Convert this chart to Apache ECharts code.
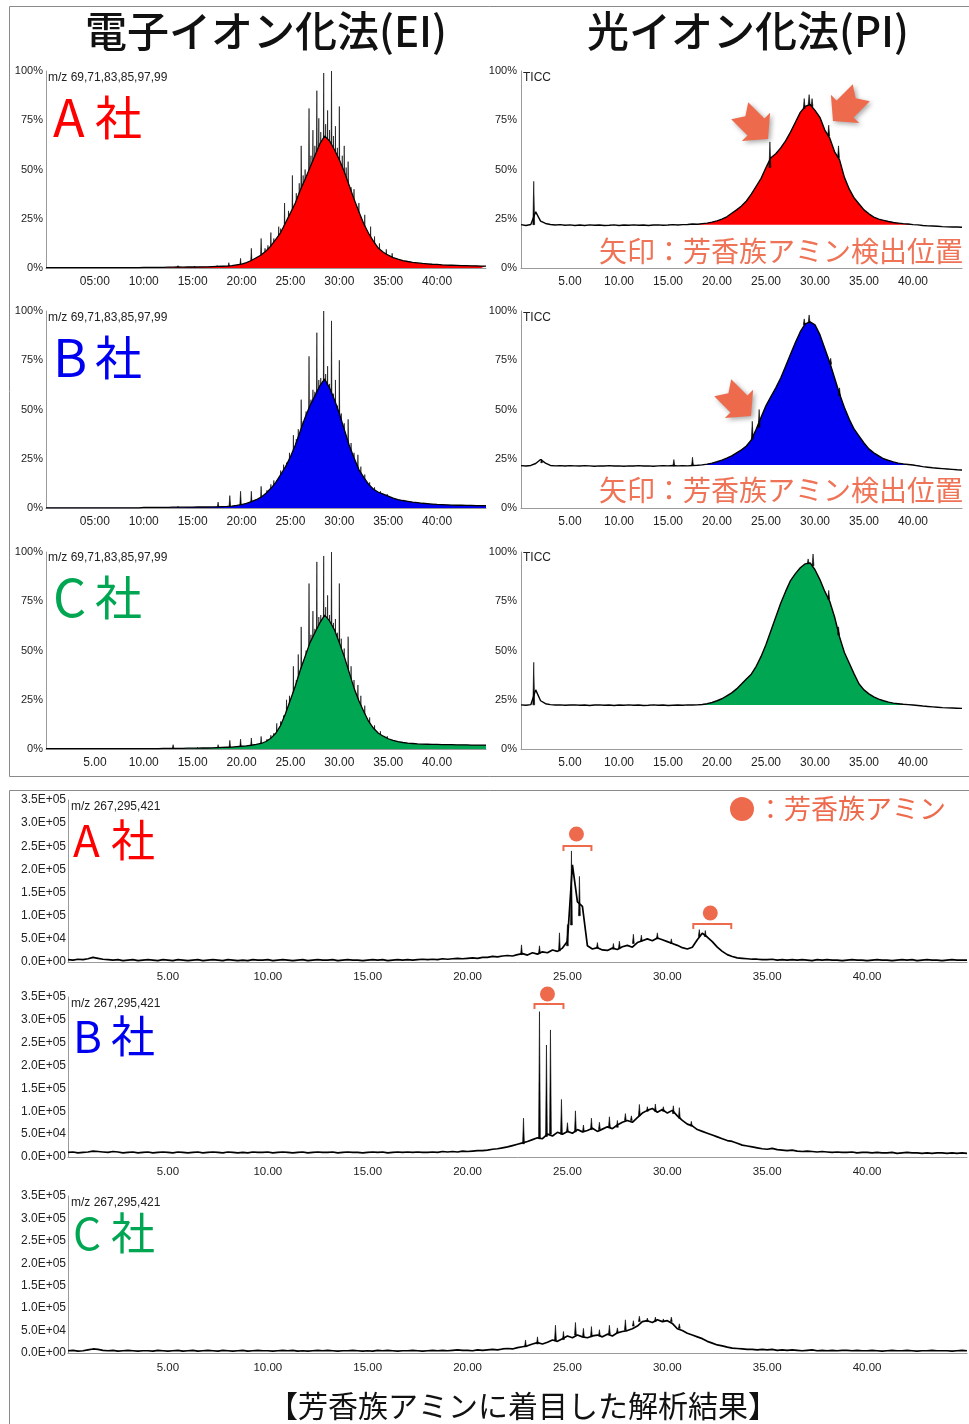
<!DOCTYPE html>
<html><head><meta charset="utf-8">
<script src="https://cdn.jsdelivr.net/npm/echarts@6/dist/echarts.min.js"></script>
<style>html,body{margin:0;padding:0;background:#fff}#c{width:969px;height:1424px}</style>
</head><body><div id="c"></div>
<script>
// ---------------- DATA ----------------
// sampling times (min)
const times05 = Array.from({length: 91}, (_, i) => i * 0.5);
const times025 = Array.from({length: 181}, (_, i) => i * 0.25);
const xTicks = [5, 10, 15, 20, 25, 30, 35, 40];

// EI (m/z 69,71,83,85,97,99) envelopes, % (0.5 min steps)
const eiA = [0.2,0.2,0.2,0.2,0.2,0.2,0.2,0.2,0.2,0.2,
  0.2,0.2,0.2,0.2,0.2,0.2,0.2,0.2,0.2,0.2,
  0.3,0.3,0.3,0.3,0.3,0.4,0.4,0.5,0.4,0.5,
  0.5,0.5,0.6,0.6,0.7,0.8,0.9,1.0,1.2,1.6,
  2.0,2.7,3.8,5.2,6.6,8.6,11.2,14.5,18,23,
  28,33,39.5,45,51,57,63,67,64.5,60,
  55,49,42,35,28.5,22.5,17.5,13.5,10,8,
  6.5,5.3,4.5,3.8,3.3,2.9,2.6,2.3,2.1,1.9,
  1.8,1.6,1.5,1.4,1.3,1.2,1.2,1.1,1.1,1.0,
  1.0];
const eiB = [0.1,0.1,0.1,0.1,0.1,0.1,0.1,0.1,0.1,0.1,
  0.1,0.1,0.1,0.1,0.1,0.1,0.1,0.1,0.1,0.1,
  0.3,0.3,0.3,0.3,0.35,0.35,0.4,0.4,0.4,0.45,
  0.45,0.5,0.5,0.5,0.55,0.6,0.7,0.8,1.0,1.3,
  1.7,2.3,3.2,4.2,5.5,7.5,10,13,17,21,
  26,32,39,46,52,57,62,65.5,61,55,
  48,40,32,25.5,19.5,15.5,12,9.5,8,7,
  6,5,4.3,3.8,3.4,3.0,2.7,2.4,2.2,2.0,
  1.8,1.7,1.6,1.5,1.4,1.4,1.3,1.3,1.2,1.2,
  1.2];
const eiC = [0.2,0.2,0.2,0.2,0.2,0.2,0.2,0.2,0.2,0.2,
  0.2,0.2,0.2,0.2,0.2,0.2,0.2,0.2,0.2,0.2,
  0.2,0.2,0.2,0.2,0.3,0.3,0.3,0.35,0.35,0.4,
  0.4,0.45,0.5,0.5,0.6,0.7,0.8,0.9,1.0,1.2,
  1.4,1.6,1.9,2.3,2.8,3.8,5.5,8,12,18,
  25,32,40,47,54,59,64,68,65,60.5,
  54,47,39,31,24.5,19,14,10.5,8,6.5,
  5.2,4.4,3.8,3.3,3.0,2.8,2.6,2.5,2.4,2.3,
  2.3,2.2,2.2,2.2,2.1,2.1,2.1,2.0,2.0,2.0,
  2.0];
// EI spikes [time, top %]
const eiSpikesA = [[13.5,1.2],[15.2,1.0],[17.5,1.3],[18.7,2.7],[19.9,4.9],[21.0,10],[22.0,15],[22.4,10],[22.7,11.5],[23.0,18],[23.3,15],[23.8,21],[24.0,20],[24.4,33],[24.8,29],[25.2,47],[25.6,38],[25.9,43],[26.1,62],[26.3,47],[26.5,50],[26.9,81],[27.1,57],[27.3,70],[27.5,62],[27.7,90],[27.9,76],[28.1,69],[28.4,99],[28.6,73],[28.8,80],[29.0,70],[29.2,100],[29.4,67],[29.6,72],[29.8,61],[30.0,82],[30.3,57],[30.5,62],[30.7,51],[30.9,54],[31.2,41],[31.5,40],[31.8,30],[32.0,33],[32.2,24],[32.6,27],[33.2,21],[33.6,16],[34.1,12.5],[34.8,9.5],[35.4,7.5]];
const eiSpikesB = [[13.5,0.8],[17.6,3],[18.8,6.3],[19.9,8.5],[21.0,8.5],[22.0,11],[22.6,9],[23.0,12],[23.3,14],[23.6,14],[24.0,19],[24.3,22],[24.6,23],[24.9,28],[25.3,37],[25.6,35],[25.8,40],[26.1,55],[26.3,44],[26.6,49],[26.9,77],[27.1,55],[27.3,60],[27.5,59],[27.7,89],[27.9,65],[28.1,66],[28.4,100],[28.6,68],[28.8,72],[29.0,63],[29.2,95],[29.4,58],[29.6,65],[29.8,52],[30.0,75],[30.2,48],[30.5,43],[30.9,45],[31.2,33],[31.5,28],[31.9,27],[32.2,21],[32.6,17],[33.1,13],[33.6,10.5],[34.2,8.5],[34.9,7]];
const eiSpikesC = [[13.0,2.2],[15.5,0.8],[17.6,2.2],[18.8,4.4],[19.9,5],[21.0,5.6],[22.0,6.4],[22.6,5],[23.0,7],[23.3,8],[23.6,13],[24.0,14],[24.3,17],[24.6,25],[24.9,27],[25.3,42],[25.6,35],[25.8,48],[26.1,62],[26.3,44],[26.6,50],[26.9,84],[27.1,58],[27.3,70],[27.5,61],[27.7,95],[27.9,67],[28.1,68],[28.4,98],[28.6,72],[28.8,78],[29.0,68],[29.2,100],[29.4,64],[29.6,66],[29.8,59],[30.0,84],[30.2,56],[30.5,51],[30.9,57],[31.2,42],[31.5,35],[31.9,32.5],[32.2,27],[32.6,22],[33.1,16],[33.6,12],[34.2,9],[34.9,6.5]];

// PI (TICC) traces, % (0.5 min steps)
const piA = [22.0,21.6,22.1,28.5,23.8,22.6,22.1,21.8,22.0,21.7,
  21.9,21.6,21.8,21.6,21.9,21.7,21.8,21.6,21.7,21.9,
  21.6,21.8,21.7,21.9,21.7,21.8,21.6,21.8,21.9,21.7,
  21.8,22.0,21.8,22.0,22.1,22.3,22.2,22.5,22.8,23.3,
  23.9,24.8,26.0,27.8,29.5,31.5,34.0,37.5,41.5,45.5,
  51,56,58,61,64.5,69,74,79,82,83,
  80,76.5,70,66,59,55,46,40,35.5,32.5,
  29.5,27.5,25.8,24.8,24.2,23.6,23.1,22.8,22.5,22.3,
  22.0,21.9,21.6,21.4,21.3,21.2,21.0,20.9,20.8,20.8,
  20.7];
const piB = [21.5,21.3,21.6,22.6,24.6,22.8,21.6,21.4,21.5,21.3,
  21.5,21.4,21.3,21.5,21.4,21.2,21.4,21.3,21.5,21.3,
  21.4,21.2,21.4,21.3,21.5,21.3,21.4,21.2,21.4,21.5,
  21.4,21.6,21.4,21.5,21.4,21.6,21.7,21.9,22.3,22.8,
  23.5,24.3,25.3,26.5,28.0,29.5,31.5,34.5,40,46,
  52,56.5,61,66,72,78,84,89.5,93.5,94.5,
  93,88,81,74,66,58,51,45,40,36.5,
  33,30,28,26.5,25,24.2,23.4,22.8,22.4,22.1,
  21.8,21.4,21.0,20.7,20.4,20.2,20.0,19.8,19.6,19.4,
  19.3];
const piC = [22.4,22.2,22.5,30,24.5,23.0,22.5,22.3,22.4,22.2,
  22.3,22.4,22.2,22.3,22.1,22.3,22.4,22.2,22.3,22.1,
  22.3,22.2,22.4,22.2,22.3,22.1,22.2,22.4,22.2,22.3,
  22.1,22.2,22.3,22.2,22.4,22.3,22.4,22.6,23.0,23.6,
  24.5,25.5,27,28.5,30.5,33,35.5,38,42,47,
  53,60,67,74,80,85.5,89,92,94,94.5,
  91,86,80,75,67,57,49,43.5,38,33,
  30,28,26.5,25.3,24.5,23.8,23.3,23.0,22.7,22.5,
  22.3,22.1,21.8,21.6,21.4,21.2,21.0,20.9,20.8,20.7,
  20.6];
// PI spikes [time, from %, to %]
const piSpikesA = [[1.3,22,44],[25.4,51,64],[28.9,81,86],[29.4,83,88],[29.7,82,86],[31.4,67,72.5],[32.4,56,62]];
const piSpikesB = [[2.1,23,24.8],[15.6,21.4,24.6],[17.5,21.6,25.8],[23.6,35,44],[24.3,41,50],[28.9,93,96],[29.4,94,98],[31.6,73,76],[32.5,57,61]];
const piSpikesC = [[1.3,22.4,44],[29.3,94,96.5],[29.8,93,99],[31.4,76,80.5],[32.4,58,62]];
const piFillBase = [22.0, 21.8, 22.3];

// m/z 267,295,421 traces, x1e4 counts (0.25 min steps)
const amA = [0.5,0.4,0.6,0.5, 0.7,1.0,0.8,0.6, 0.5,0.4,0.5,0.3, 0.4,0.5,0.3,0.4, 0.5,0.4,0.3,0.5,
  0.4,0.3,0.5,0.4, 0.3,0.4,0.5,0.3, 0.4,0.5,0.4,0.3, 0.5,0.4,0.3,0.4, 0.3,0.5,0.4,0.4,
  0.5,0.3,0.4,0.5, 0.4,0.3,0.4,0.5, 0.3,0.4,0.5,0.4, 0.4,0.5,0.3,0.4, 0.5,0.4,0.4,0.3,
  0.4,0.5,0.4,0.5, 0.3,0.4,0.5,0.4, 0.5,0.4,0.5,0.6, 0.5,0.6,0.5,0.7, 0.6,0.7,0.8,0.7,
  0.8,0.9,0.8,1.0, 1.0,1.2,1.1,1.3, 1.4,1.3,1.6,1.8, 1.5,2.0,1.7,2.2, 2.0,2.6,2.3,3.0,
  4.5,21,13,12, 3.5,2.8,3.1,2.6, 2.5,3.0,2.7,3.3, 3.6,3.2,4.2,4.6, 5.0,4.6,5.2,4.8,
  4.4,4.0,3.6,3.1, 2.8,3.2,4.8,6.2, 5.4,4.4,3.2,2.3, 1.6,1.2,0.9,0.8, 0.7,0.6,0.6,0.5,
  0.5,0.6,0.4,0.5, 0.4,0.5,0.4,0.5, 0.4,0.3,0.5,0.4, 0.5,0.4,0.4,0.3, 0.4,0.5,0.4,0.4,
  0.3,0.4,0.5,0.4, 0.4,0.3,0.4,0.5, 0.4,0.5,0.3,0.4, 0.5,0.4,0.4,0.3, 0.4,0.5,0.4,0.4,
  0.4];
const amB = [1.0,1.1,0.9,1.0, 1.1,1.3,1.2,1.1, 1.0,1.2,1.1,0.9, 1.0,1.1,0.9,1.0, 1.1,0.9,1.0,1.1,
  1.0,0.9,1.1,1.0, 0.9,1.0,1.1,0.9, 1.0,1.1,1.0,0.9, 1.1,1.0,0.9,1.0, 0.9,1.1,1.0,1.0,
  1.1,0.9,1.0,1.1, 1.0,0.9,1.0,1.1, 0.9,1.0,1.1,1.0, 1.0,1.1,0.9,1.0, 1.1,1.0,1.0,0.9,
  1.0,1.1,1.0,1.1, 0.9,1.0,1.1,1.0, 1.1,1.0,1.1,1.0, 1.0,1.1,1.0,1.2, 1.1,1.2,1.1,1.3,
  1.2,1.3,1.4,1.4, 1.5,1.7,1.8,2.0, 2.2,2.5,2.8,3.1, 3.4,3.8,4.2,4.0, 5.0,4.6,5.4,5.0,
  5.6,5.2,6.0,5.5, 5.8,6.3,5.6,6.1, 6.6,6.2,7.0,7.6, 8.0,7.6,8.6,9.6, 10.2,10.6,9.8,10.4,
  9.6,10.2,9.0,8.0, 7.2,6.8,6.0,5.6, 5.2,4.8,4.4,4.0, 3.6,3.4,3.0,2.6, 2.4,2.2,2.0,1.8,
  1.7,1.9,1.6,1.5, 1.4,1.5,1.3,1.2, 1.3,1.2,1.1,1.2, 1.1,1.0,1.1,1.0, 1.0,1.1,0.9,1.0,
  1.0,0.9,1.0,0.9, 0.9,1.0,0.8,0.9, 1.0,0.9,0.9,0.8, 0.9,0.8,0.9,0.9, 0.8,0.9,0.8,0.9,
  0.8];
const amC = [0.5,0.6,0.4,0.5, 0.7,0.9,0.8,0.6, 0.5,0.6,0.4,0.5, 0.6,0.5,0.4,0.5, 0.5,0.4,0.6,0.5,
  0.4,0.5,0.6,0.4, 0.5,0.6,0.4,0.5, 0.6,0.5,0.4,0.6, 0.5,0.4,0.5,0.6, 0.4,0.5,0.6,0.5,
  0.5,0.4,0.5,0.6, 0.5,0.6,0.4,0.5, 0.4,0.5,0.6,0.5, 0.6,0.5,0.4,0.5, 0.5,0.6,0.5,0.4,
  0.5,0.4,0.6,0.5, 0.6,0.5,0.4,0.5, 0.5,0.6,0.5,0.4, 0.5,0.6,0.5,0.6, 0.5,0.6,0.7,0.6,
  0.6,0.5,0.7,0.6, 0.7,0.8,0.7,0.9, 1.0,0.9,1.2,1.4, 1.6,2.0,2.3,2.0, 2.4,2.9,2.6,3.2,
  3.8,3.4,4.0,3.6, 3.4,3.8,4.0,3.6, 4.2,3.8,4.5,4.8, 5.0,5.4,6.0,7.0, 7.2,6.8,7.4,7.0,
  7.2,6.6,5.4,5.0, 4.4,4.0,3.6,3.2, 2.6,2.2,1.8,1.6, 1.3,1.1,1.0,0.9, 0.8,0.8,0.7,0.8,
  0.7,0.8,0.6,0.7, 0.6,0.7,0.6,0.5, 0.6,0.7,0.5,0.6, 0.5,0.6,0.5,0.6, 0.6,0.5,0.6,0.5,
  0.5,0.6,0.5,0.4, 0.5,0.6,0.5,0.5, 0.6,0.5,0.4,0.5, 0.5,0.6,0.5,0.5, 0.5,0.4,0.5,0.6,
  0.5];
// spikes [time, from, to] x1e4
const amSpikesA = [[22.7,1.6,3.7],[23.6,1.9,3.5],[24.6,2.4,6.3],[25.0,3.5,8.1],[25.2,8,24],[25.6,10,18.5],[26.5,3,4.2],[27.3,2.8,4.0],[27.6,3,4.5],[28.3,4,6.0],[28.7,4.5,5.8],[29.5,5,6.3],[30.2,4,5.0],[31.6,5.5,7.0],[31.9,5.5,6.8]];
const amSpikesB = [[22.8,2.9,8.5],[23.6,4,31.8],[23.95,4.5,24.5],[24.15,5,27.8],[24.7,5,12.6],[25.0,5.5,7.5],[25.4,5.5,10.1],[25.8,5.5,7.0],[26.2,6,8.5],[26.6,6,7.6],[27.1,6.5,8.8],[27.5,6.5,8.0],[27.9,8,9.5],[28.2,8,9.0],[28.6,9,11.5],[29.0,10,11.0],[29.4,10,11.6],[29.8,10,11.0],[30.3,9.5,11.2],[30.6,8.5,10.8],[31.2,6.8,7.8]];
const amSpikesC = [[22.9,1.4,2.9],[23.5,2.0,3.6],[24.4,2.9,6.2],[24.8,3,4.8],[25.4,4.0,6.8],[25.8,3.6,5.5],[26.2,3.6,5.9],[26.6,3.8,5.2],[27.1,4.2,6.2],[27.5,4.5,5.6],[27.9,5.1,7.4],[28.3,6,7.2],[28.6,7.0,8.2],[29.0,7,7.8],[29.4,7.0,8.0],[29.8,7,7.6],[30.2,7.0,8.0],[30.6,5.5,6.5]];
// aromatic amine marks: [dot time, bracket start, bracket end]
const amineMarksA = [[25.45, 24.8, 26.2], [32.15, 31.3, 33.2]];
const amineMarksB = [[24.0, 23.35, 24.8]];

// ---------------- STYLE / LAYOUT ----------------
const JP = '"Noto Sans CJK JP","Noto Sans CJK SC",sans-serif';
const TK = '"Liberation Sans",Arial,sans-serif';
const RED = '#ff0000', BLUE = '#0000f0', GREEN = '#00a651';
const ORANGE = '#ee6a4c';
const grids = [
  {left: 46, top: 71, width: 440, height: 197},
  {left: 46, top: 311, width: 440, height: 197},
  {left: 46, top: 552, width: 440, height: 197},
  {left: 521, top: 71, width: 441, height: 197},
  {left: 521, top: 311, width: 441, height: 197},
  {left: 521, top: 552, width: 441, height: 197},
  {left: 68, top: 800, width: 899, height: 162},
  {left: 68, top: 997, width: 899, height: 160},
  {left: 68, top: 1196, width: 899, height: 157}
];
const xFmt = ['mm', 'mm', 'd', 'd', 'd', 'd', 'd', 'd', 'd'];

const xAxes = grids.map((g, i) => ({
  type: 'value', gridIndex: i, min: 0, max: 45, interval: 5,
  axisLine: {show: true, onZero: false, lineStyle: {color: '#9a9a9a', width: 1}},
  axisTick: {show: false}, splitLine: {show: false},
  axisLabel: {
    showMinLabel: false, showMaxLabel: false,
    fontFamily: TK, fontSize: i >= 6 ? 11.5 : 12, color: '#222', margin: i >= 6 ? 9 : 8,
    formatter: v => (xTicks.indexOf(v) < 0) ? '' :
      (xFmt[i] === 'mm' ? (v < 10 ? '0' + v : '' + v) + ':00' : v.toFixed(2))
  }
}));
const yAxes = grids.map((g, i) => {
  const bottom = i >= 6;
  return {
    type: 'value', gridIndex: i, min: 0, max: bottom ? 35 : 100, interval: bottom ? 5 : 25,
    axisLine: {show: true, lineStyle: {color: '#9a9a9a', width: 1}},
    axisTick: {show: false}, splitLine: {show: false},
    axisLabel: {
      fontFamily: TK, fontSize: bottom ? 12 : 11, color: '#222', margin: bottom ? 2 : (i >= 3 ? 4 : 3),
      formatter: v => bottom ? (v === 0 ? '0.0E+00' : (v < 10 ? v.toFixed(1) + 'E+04' : (v / 10).toFixed(1) + 'E+05')) : v + '%'
    }
  };
});

function pairs(ts, vs) { return vs.map((v, k) => [ts[k], v]); }
function spikeSeries(gi, data, z) {
  return {
    type: 'custom', xAxisIndex: gi, yAxisIndex: gi, z: z, silent: true, clip: true,
    encode: {x: 0, y: [1, 2]}, data: data,
    renderItem: (params, api) => {
      const p1 = api.coord([api.value(0), api.value(1)]);
      const p2 = api.coord([api.value(0), api.value(2)]);
      return {type: 'polygon', shape: {points: [[p1[0] - 0.9, p1[1]], [p2[0], p2[1]], [p1[0] + 0.9, p1[1]]]},
        style: {fill: '#000', stroke: '#000', lineWidth: 0.6}};
    }
  };
}
function traceSeries(gi, data, z, width, area) {
  const s = {type: 'line', xAxisIndex: gi, yAxisIndex: gi, data: data, showSymbol: false, symbol: 'none',
    z: z, silent: true, lineStyle: {color: '#000', width: width}};
  if (area) s.areaStyle = area;
  return s;
}

const series = [];
// EI
[[eiA, eiSpikesA, RED], [eiB, eiSpikesB, BLUE], [eiC, eiSpikesC, GREEN]].forEach((d, k) => {
  series.push(spikeSeries(k, d[1].map(s => [s[0], 0, s[1]]), 1));
  series.push(traceSeries(k, pairs(times05, d[0]), 2, 1.3, {color: d[2], opacity: 1}));
});
// PI
[[piA, piSpikesA, RED], [piB, piSpikesB, BLUE], [piC, piSpikesC, GREEN]].forEach((d, k) => {
  const gi = 3 + k;
  const fill = pairs(times05, d[0]).slice(36, 83);
  series.push({type: 'line', xAxisIndex: gi, yAxisIndex: gi, data: fill, showSymbol: false, symbol: 'none', z: 1, silent: true,
    lineStyle: {width: 0, color: d[2]}, areaStyle: {color: d[2], opacity: 1, origin: piFillBase[k]}});
  series.push(traceSeries(gi, pairs(times05, d[0]), 2, 1.4));
  series.push(spikeSeries(gi, d[1], 3));
});
// amine traces
[[amA, amSpikesA], [amB, amSpikesB], [amC, amSpikesC]].forEach((d, k) => {
  const gi = 6 + k;
  series.push(traceSeries(gi, pairs(times025, d[0]), 2, 1.7));
  series.push(spikeSeries(gi, d[1], 3));
});

function txt(x, y, text, font, fill, align) {
  return {type: 'text', x: x, y: y, silent: true, z: 100,
    style: {text: text, font: font, fill: fill, align: align || 'left', verticalAlign: 'middle',
      textAlign: align || 'left', textVerticalAlign: 'middle'}};
}
function arrow(tipX, tipY, angleDeg) {
  const H = 17, HW = 20, W = 12, L = 40, N = 8;
  const local = [[0, 0], [-H, -HW], [-H, -W], [-L, -W], [-L + N, 0], [-L, W], [-H, W], [-H, HW]];
  const a = angleDeg * Math.PI / 180, c = Math.cos(a), s = Math.sin(a);
  return {type: 'polygon', silent: true, z: 100,
    shape: {points: local.map(p => [tipX + p[0] * c - p[1] * s, tipY + p[0] * s + p[1] * c])},
    style: {fill: ORANGE, shadowBlur: 5, shadowColor: 'rgba(0,0,0,0.35)', shadowOffsetX: 2, shadowOffsetY: 2}};
}

const graphic = [
  {type: 'rect', silent: true, shape: {x: 9.5, y: 6.5, width: 990, height: 770}, style: {fill: 'none', stroke: '#8a8a8a', lineWidth: 1}},
  {type: 'rect', silent: true, shape: {x: 9.5, y: 790.5, width: 990, height: 700}, style: {fill: 'none', stroke: '#8a8a8a', lineWidth: 1}},
  txt(266, 31, '電子イオン化法(EI)', '500 42px ' + JP, '#111', 'center'),
  txt(748, 31, '光イオン化法(PI)', '500 42px ' + JP, '#111', 'center'),
  txt(48, 78, 'm/z 69,71,83,85,97,99', '12px ' + TK, '#222'),
  txt(48, 318, 'm/z 69,71,83,85,97,99', '12px ' + TK, '#222'),
  txt(48, 558, 'm/z 69,71,83,85,97,99', '12px ' + TK, '#222'),
  txt(523, 78, 'TICC', '12px ' + TK, '#222'),
  txt(523, 318, 'TICC', '12px ' + TK, '#222'),
  txt(523, 558, 'TICC', '12px ' + TK, '#222'),
  txt(71, 807, 'm/z 267,295,421', '12px ' + TK, '#222'),
  txt(71, 1004, 'm/z 267,295,421', '12px ' + TK, '#222'),
  txt(71, 1203, 'm/z 267,295,421', '12px ' + TK, '#222'),
  // company labels (top)
  txt(53, 117, 'A', '52px ' + JP, RED), txt(95, 117, '社', '47px ' + JP, RED),
  txt(53, 357, 'B', '52px ' + JP, BLUE), txt(95, 357, '社', '47px ' + JP, BLUE),
  txt(53, 597, 'C', '52px ' + JP, GREEN), txt(95, 597, '社', '47px ' + JP, GREEN),
  // company labels (bottom)
  txt(73, 840, 'A', '44px ' + JP, RED), txt(111, 840, '社', '44px ' + JP, RED),
  txt(73, 1036, 'B', '44px ' + JP, BLUE), txt(111, 1036, '社', '44px ' + JP, BLUE),
  txt(73, 1233, 'C', '44px ' + JP, GREEN), txt(111, 1233, '社', '44px ' + JP, GREEN),
  // annotations
  txt(599, 251, '矢印：芳香族アミン検出位置', '28px ' + JP, '#ef7356'),
  txt(599, 490, '矢印：芳香族アミン検出位置', '28px ' + JP, '#ef7356'),
  arrow(768, 139, 45), arrow(833, 121, 135), arrow(751, 416, 45),
  {type: 'circle', silent: true, z: 100, shape: {cx: 742, cy: 809, r: 12}, style: {fill: ORANGE}},
  txt(757, 809, '：芳香族アミン', '27px ' + JP, ORANGE),
  txt(523, 1406, '【芳香族アミンに着目した解析結果】', '30px ' + JP, '#111', 'center')
];

const chart = echarts.init(document.getElementById('c'), null, {renderer: 'canvas'});
chart.setOption({
  animation: false, backgroundColor: '#fff',
  grid: grids.map(g => Object.assign({outerBoundsMode: 'none', containLabel: false}, g)),
  xAxis: xAxes, yAxis: yAxes, series: series, graphic: graphic
});

// amine marks (dot + bracket) placed via the axes' scales
function markEls(gi, marks, dotY, brY) {
  const els = [];
  marks.forEach(m => {
    const cx = chart.convertToPixel({gridIndex: gi}, [m[0], 0])[0];
    const x1 = chart.convertToPixel({gridIndex: gi}, [m[1], 0])[0];
    const x2 = chart.convertToPixel({gridIndex: gi}, [m[2], 0])[0];
    els.push({type: 'circle', silent: true, z: 100, shape: {cx: cx, cy: dotY, r: 7.5}, style: {fill: ORANGE}});
    els.push({type: 'polyline', silent: true, z: 100, shape: {points: [[x1, brY + 5], [x1, brY], [x2, brY], [x2, brY + 5]]},
      style: {stroke: ORANGE, lineWidth: 2, fill: 'none'}});
  });
  return els;
}
const extra = [].concat(
  markEls(6, [amineMarksA[0]], 834, 846),
  markEls(6, [amineMarksA[1]], 913, 924),
  markEls(7, amineMarksB, 994, 1004)
);
chart.setOption({graphic: graphic.concat(extra)});
</script></body></html>
